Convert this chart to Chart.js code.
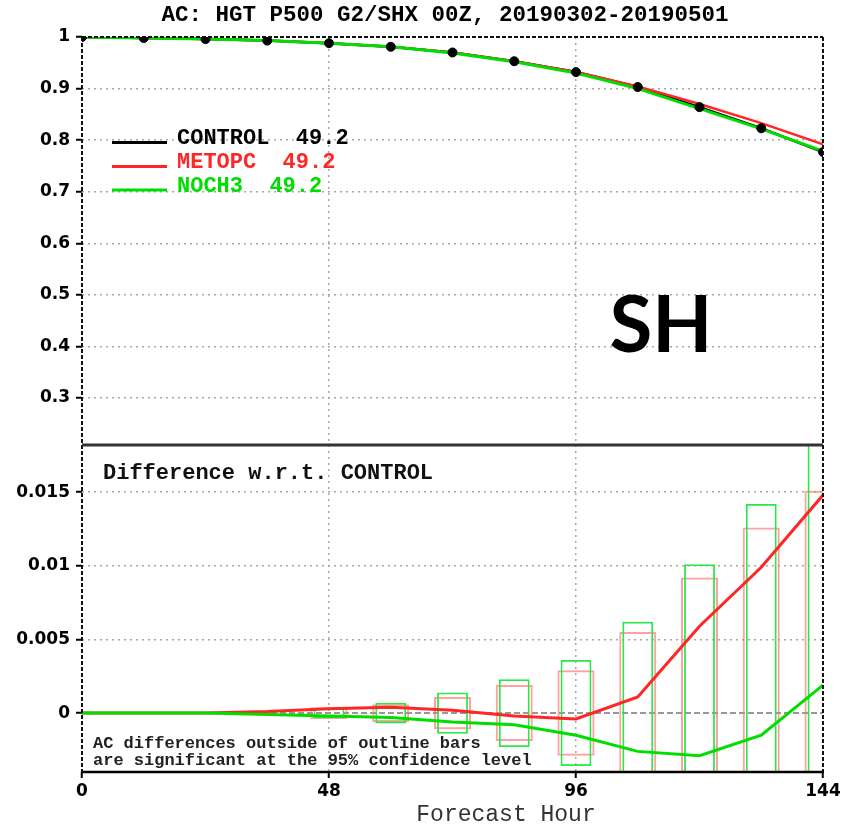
<!DOCTYPE html>
<html>
<head>
<meta charset="utf-8">
<script src="https://cdn.jsdelivr.net/npm/chart.js@4.4.1/dist/chart.umd.min.js"></script>
<style>
  body { margin: 0; background: #fff; }
  #wrap { position: relative; width: 855px; height: 826px; }
</style>
</head>
<body>
<div id="wrap"><canvas id="acChart"></canvas></div>
<script>
const hours = [0, 12, 24, 36, 48, 60, 72, 84, 96, 108, 120, 132, 144];
const controlAC = [1.0, 0.998, 0.996, 0.993, 0.988, 0.981, 0.970, 0.953, 0.932, 0.903, 0.864, 0.823, 0.777];
const metopcAC  = [1.0, 0.998, 0.996, 0.993, 0.988, 0.981, 0.970, 0.953, 0.932, 0.904, 0.870, 0.833, 0.792];
const noch3AC   = [1.0, 0.998, 0.996, 0.993, 0.988, 0.981, 0.969, 0.952, 0.930, 0.900, 0.861, 0.822, 0.779];

// Difference w.r.t. CONTROL (lower panel)
const metopcDiff = [0, 0, 0, 0.0001, 0.0003, 0.0004, 0.0002, -0.0002, -0.0004, 0.0011, 0.0059, 0.0099, 0.0148];
const noch3Diff  = [0, 0, 0, -0.0001, -0.0002, -0.0003, -0.0006, -0.0008, -0.0015, -0.0026, -0.0029, -0.0015, 0.0019];

// 95% significance half-widths (outline bars), none drawn before 48h
const metopcSig = [null, null, null, null, 0.0004, 0.0006, 0.0011, 0.0019, 0.0029, 0.0055, 0.0092, 0.0126, 0.0151];
const noch3Sig  = [null, null, null, null, 0.00035, 0.0007, 0.0014, 0.0023, 0.0036, 0.0062, 0.0101, 0.0142, 0.0195];

// Legend names and scores
const expNames  = ['CONTROL', 'METOPC', 'NOCH3'];
const expScores = ['49.2', '49.2', '49.2'];

// Tick labels
const xTicks    = [0, 48, 96, 144];
const acTicks   = [0.3, 0.4, 0.5, 0.6, 0.7, 0.8, 0.9, 1];
const diffTicks = [0, 0.005, 0.01, 0.015];

const BLACK = '#000';
const RED = 'rgb(255,38,38)';
const GREEN = 'rgb(0,222,0)';
const colors = [BLACK, RED, GREEN];

const pts = arr => hours.map((h, i) => ({ x: h, y: arr[i] }));
const boxes = arr => hours.map((h, i) => arr[i] == null ? null : { x: h, y: [-arr[i], arr[i]] }).filter(d => d);

const tickFont = { family: 'DejaVu Sans', weight: 'bold', size: 17 };
const GRID = '#a8a8a8';

// clip the outline bars to their own panel, draw frame, zero line and texts
const panelPlugin = {
    id: 'panelPlugin',
    beforeDatasetDraw(chart, args) {
        if (args.meta.type !== 'bar') return;
        const a = chart.chartArea, ys = args.meta.yScale, ctx = chart.ctx;
        ctx.save();
        ctx.beginPath();
        ctx.rect(a.left, ys.top, a.right - a.left, ys.bottom - ys.top);
        ctx.clip();
    },
    afterDatasetDraw(chart, args) {
        if (args.meta.type === 'bar') chart.ctx.restore();
    },
    beforeDatasetsDraw(chart) {
        const ctx = chart.ctx, a = chart.chartArea;
        const y0 = chart.scales.yDiff.getPixelForValue(0);
        ctx.save();
        ctx.strokeStyle = '#777';
        ctx.lineWidth = 1.5;
        ctx.setLineDash([6, 3]);
        ctx.beginPath();
        ctx.moveTo(a.left, y0);
        ctx.lineTo(a.right, y0);
        ctx.stroke();
        ctx.restore();
    },
    afterDatasetsDraw(chart) {
        const ctx = chart.ctx, a = chart.chartArea;
        const top = chart.scales.yAC, bot = chart.scales.yDiff;
        ctx.save();
        ctx.strokeStyle = '#111';
        ctx.lineWidth = 2;
        ctx.setLineDash([4, 2]);
        ctx.beginPath();
        ctx.moveTo(a.left, top.top); ctx.lineTo(a.right, top.top);
        ctx.moveTo(a.left, top.top); ctx.lineTo(a.left, bot.bottom);
        ctx.moveTo(a.right, top.top); ctx.lineTo(a.right, bot.bottom);
        ctx.stroke();
        ctx.setLineDash([]);
        ctx.strokeStyle = '#333';
        ctx.lineWidth = 3;
        ctx.beginPath();
        ctx.moveTo(a.left, top.bottom); ctx.lineTo(a.right, top.bottom);
        ctx.stroke();
        ctx.strokeStyle = '#000';
        ctx.lineWidth = 2.5;
        ctx.beginPath();
        ctx.moveTo(a.left, bot.bottom); ctx.lineTo(a.right + 1, bot.bottom);
        ctx.stroke();
        ctx.restore();
    },
    afterDraw(chart) {
        const ctx = chart.ctx;
        ctx.save();
        ctx.textBaseline = 'middle';
        ctx.fillStyle = '#000';

        ctx.textAlign = 'center';
        ctx.font = 'bold 22.5px "Liberation Mono"';
        ctx.fillText('AC: HGT P500 G2/SHX 00Z, 20190302-20190501', 445, 15);

        // legend
        ctx.textAlign = 'left';
        ctx.textBaseline = 'alphabetic';
        ctx.font = 'bold 22px "Liberation Mono"';
        const baseY = [144, 168, 191.5];
        expNames.forEach((name, i) => {
            ctx.strokeStyle = colors[i];
            ctx.lineWidth = 3;
            ctx.beginPath();
            ctx.moveTo(112, baseY[i] - 1.5);
            ctx.lineTo(167, baseY[i] - 1.5);
            ctx.stroke();
            ctx.fillStyle = colors[i];
            ctx.fillText(name + '  ' + expScores[i], 177, baseY[i]);
        });

        ctx.fillStyle = '#000';
        ctx.font = 'bold 78px Lato';
        ctx.textAlign = 'center';
        ctx.textBaseline = 'alphabetic';
        ctx.fillText('SH', 661, 352);

        ctx.textAlign = 'left';
        ctx.textBaseline = 'middle';
        ctx.font = 'bold 22px "Liberation Mono"';
        ctx.fillStyle = '#111';
        ctx.fillText('Difference w.r.t. CONTROL', 103, 473);

        ctx.font = 'bold 17px "Liberation Mono"';
        ctx.fillStyle = '#222';
        ctx.fillText('AC differences outside of outline bars', 93, 744);
        ctx.fillText('are significant at the 95% confidence level', 93, 760.5);

        ctx.textAlign = 'center';
        ctx.font = '23px "Liberation Mono"';
        ctx.fillStyle = '#333';
        ctx.fillText('Forecast Hour', 506, 815);
        ctx.restore();
    }
};

const ctx = document.getElementById('acChart').getContext('2d');
const acChart = new Chart(ctx, {
    type: 'line',
    data: {
        datasets: [
            // upper panel
            { label: 'CONTROL', data: pts(controlAC), yAxisID: 'yAC', borderColor: BLACK, borderWidth: 2.5, pointRadius: 0, order: 5 },
            { label: 'METOPC', data: pts(metopcAC), yAxisID: 'yAC', borderColor: RED, borderWidth: 2.5, pointRadius: 0, order: 4 },
            { label: 'NOCH3', data: pts(noch3AC), yAxisID: 'yAC', borderColor: GREEN, borderWidth: 3, pointRadius: 0, order: 3 },
            { label: 'CONTROL pts', data: pts(controlAC), yAxisID: 'yAC', showLine: false, pointRadius: 4.5,
              pointBackgroundColor: BLACK, pointBorderColor: BLACK, order: 0 },
            // lower panel
            { type: 'bar', label: 'METOPC sig', data: boxes(metopcSig), yAxisID: 'yDiff', grouped: false,
              backgroundColor: 'rgba(0,0,0,0)', borderColor: 'rgba(255,110,110,0.65)', borderWidth: 2,
              borderSkipped: false, barPercentage: 0.6, categoryPercentage: 1, clip: 0, order: 11 },
            { type: 'bar', label: 'NOCH3 sig', data: boxes(noch3Sig), yAxisID: 'yDiff', grouped: false,
              backgroundColor: 'rgba(0,0,0,0)', borderColor: 'rgb(40,232,70)', borderWidth: 1.8,
              borderSkipped: false, barPercentage: 0.5, categoryPercentage: 1, clip: 0, order: 10 },
            { label: 'METOPC diff', data: pts(metopcDiff), yAxisID: 'yDiff', borderColor: RED, borderWidth: 3, pointRadius: 0, order: 2 },
            { label: 'NOCH3 diff', data: pts(noch3Diff), yAxisID: 'yDiff', borderColor: GREEN, borderWidth: 3, pointRadius: 0, order: 1 }
        ]
    },
    options: {
        responsive: true,
        maintainAspectRatio: false,
        animation: false,
        layout: { padding: { top: 37, right: 32, bottom: 0, left: 0 } },
        plugins: { legend: { display: false }, tooltip: { enabled: false } },
        scales: {
            x: {
                type: 'linear', min: 0, max: 144, offset: false,
                afterBuildTicks: s => { s.ticks = xTicks.map(v => ({ value: v })); },
                afterFit: s => { s.height = 54; },
                ticks: { font: tickFont, color: '#000', padding: 3, maxRotation: 0 },
                grid: {
                    offset: false, lineWidth: 1.5, tickLength: 6, tickColor: '#000', tickWidth: 2,
                    tickBorderDash: [],
                    color: c => (c.tick && (c.tick.value === 0 || c.tick.value === 144)) ? 'rgba(0,0,0,0)' : GRID
                },
                border: { display: false, dash: [2, 4] }
            },
            yDiff: {
                type: 'linear', position: 'left', stack: 'panels', stackWeight: 327,
                min: -0.004, max: 0.0182,
                afterBuildTicks: s => { s.ticks = diffTicks.map(v => ({ value: v })); },
                afterFit: s => { s.width = 82; },
                ticks: { font: tickFont, color: '#000', padding: 6, callback: v => String(v) },
                grid: {
                    lineWidth: 1.5, tickLength: 6, tickColor: '#000', tickWidth: 2, tickBorderDash: [],
                    color: c => (c.tick && c.tick.value === 0) ? 'rgba(0,0,0,0)' : GRID
                },
                border: { display: false, dash: [2, 4] }
            },
            yAC: {
                type: 'linear', position: 'left', stack: 'panels', stackWeight: 408,
                min: 0.209, max: 1,
                afterBuildTicks: s => { s.ticks = acTicks.map(v => ({ value: v })); },
                afterFit: s => { s.width = 82; },
                ticks: { font: tickFont, color: '#000', padding: 6, callback: v => String(v) },
                grid: {
                    lineWidth: 1.5, tickLength: 6, tickColor: '#000', tickWidth: 2, tickBorderDash: [],
                    color: c => (c.tick && c.tick.value >= 1) ? 'rgba(0,0,0,0)' : GRID
                },
                border: { display: false, dash: [2, 4] }
            }
        }
    },
    plugins: [panelPlugin]
});
</script>
</body>
</html>
